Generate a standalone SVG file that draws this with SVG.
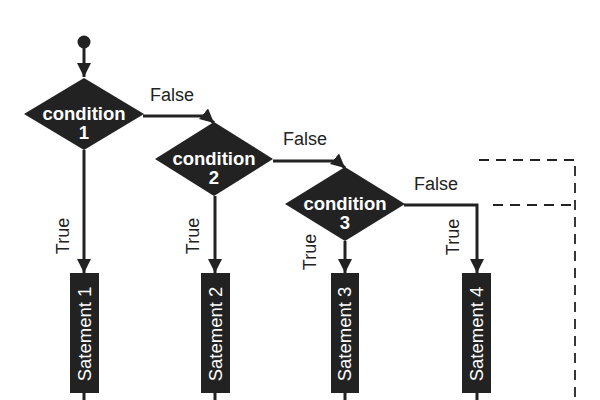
<svg xmlns="http://www.w3.org/2000/svg" width="600" height="400" viewBox="0 0 600 400">
<style>
.ln{fill:none;stroke:#222;stroke-width:3}
.dash{fill:none;stroke:#222;stroke-width:1.8;stroke-dasharray:10 7}
.shape{fill:#222}
.ctext{font-family:"Liberation Sans",Arial,sans-serif;font-weight:bold;font-size:18.5px;fill:#fff;text-anchor:middle}
.lbl{font-family:"Liberation Sans",Arial,sans-serif;font-size:18px;fill:#222;text-anchor:middle}
.stext{font-family:"Liberation Sans",Arial,sans-serif;font-size:18.5px;fill:#fff;text-anchor:middle}
</style>
<defs>
<marker id="arr" markerUnits="userSpaceOnUse" markerWidth="14" markerHeight="14" viewBox="0 0 12 12" refX="12" refY="6" orient="auto">
<path d="M0,0 L12,6 L0,12 Z" fill="#222"/>
</marker>
</defs>
<rect width="600" height="400" fill="#fff"/>
<g id="connectors">
<path class="ln" d="M84,42 V77" marker-end="url(#arr)"/>
<path class="ln" d="M143,116 H206 L214,123" marker-end="url(#arr)"/>
<path class="ln" d="M273,161 H337 L345,168" marker-end="url(#arr)"/>
<path class="ln" d="M84,150 V273" marker-end="url(#arr)"/>
<path class="ln" d="M215,196 V273" marker-end="url(#arr)"/>
<path class="ln" d="M345,241 V273" marker-end="url(#arr)"/>
<path class="ln" d="M404,205 H477 V273" marker-end="url(#arr)"/>
<path class="ln" d="M84,393 V400 M215,393 V400 M345,393 V400 M477,393 V400"/>
<path class="dash" d="M479,160 H575 V400"/>
<path class="dash" d="M493,205 H575"/>
<text class="lbl" x="172" y="101">False</text>
<text class="lbl" x="305" y="145">False</text>
<text class="lbl" x="436" y="190">False</text>
<text class="lbl" transform="translate(69,236) rotate(-90)">True</text>
<text class="lbl" transform="translate(199,236) rotate(-90)">True</text>
<text class="lbl" transform="translate(316,252) rotate(-90)">True</text>
<text class="lbl" transform="translate(459,237) rotate(-90)">True</text>
</g>
<g id="start"><circle class="shape" cx="84" cy="42" r="6.5"/></g>
<g id="cond1">
<polygon class="shape" points="84,78 144,114 84,150 24,114"/>
<text class="ctext" x="84" y="120">condition</text>
<text class="ctext" x="84" y="139">1</text>
</g>
<g id="cond2">
<polygon class="shape" points="214,122 273,159 214,196 155,159"/>
<text class="ctext" x="214" y="165">condition</text>
<text class="ctext" x="214" y="184">2</text>
</g>
<g id="cond3">
<polygon class="shape" points="345,167 405,204 345,241 285,204"/>
<text class="ctext" x="345" y="210">condition</text>
<text class="ctext" x="345" y="229">3</text>
</g>
<g id="stmt1">
<rect class="shape" x="70" y="273" width="29" height="120"/>
<text class="stext" transform="translate(91,334) rotate(-90)">Satement 1</text>
</g>
<g id="stmt2">
<rect class="shape" x="201" y="273" width="29" height="120"/>
<text class="stext" transform="translate(222,334) rotate(-90)">Satement 2</text>
</g>
<g id="stmt3">
<rect class="shape" x="331" y="273" width="28" height="120"/>
<text class="stext" transform="translate(351,334) rotate(-90)">Satement 3</text>
</g>
<g id="stmt4">
<rect class="shape" x="462" y="273" width="29" height="120"/>
<text class="stext" transform="translate(483,334) rotate(-90)">Satement 4</text>
</g>
</svg>
